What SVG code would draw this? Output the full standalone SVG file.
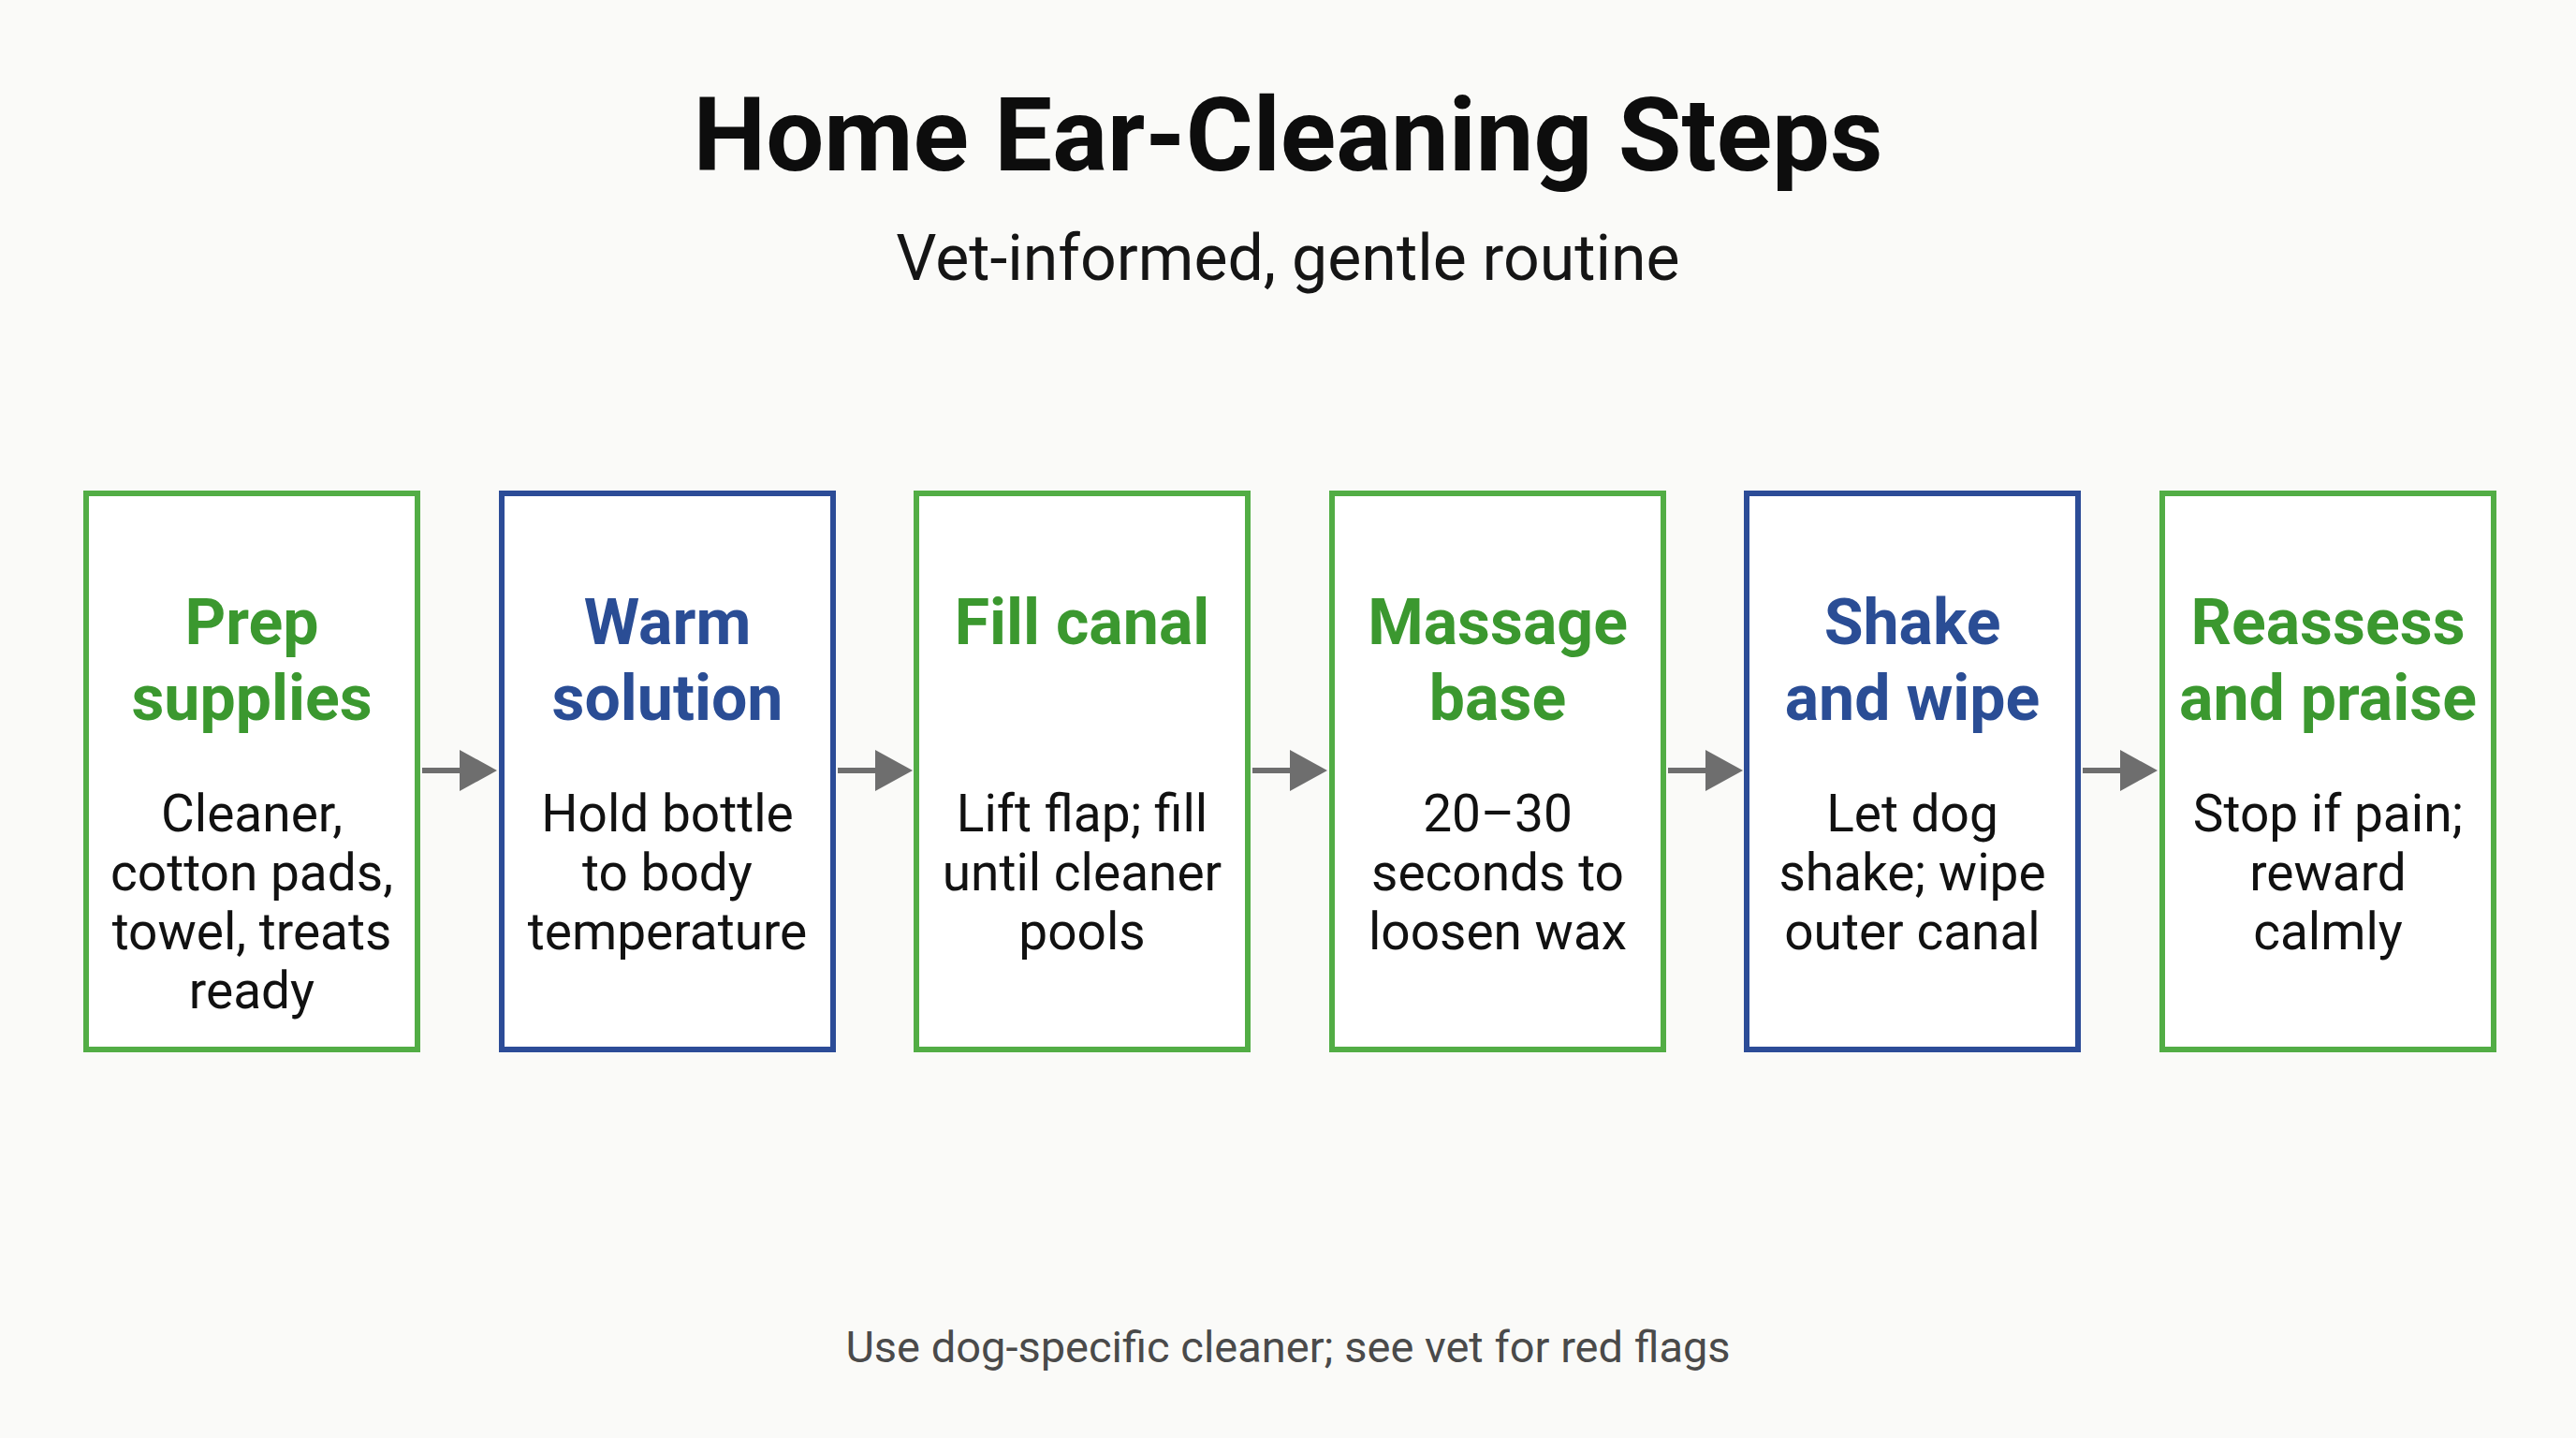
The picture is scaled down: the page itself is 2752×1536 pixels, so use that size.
<svg xmlns="http://www.w3.org/2000/svg" width="2752" height="1536" viewBox="0 0 2752 1536">
<defs>
<style>
.title{font-family:Roboto,"Liberation Sans",sans-serif;font-weight:700;font-size:110px;fill:#0d0d0d;text-anchor:middle}
.sub{font-family:Roboto,"Liberation Sans",sans-serif;font-size:68px;fill:#151515;text-anchor:middle}
.foot{font-family:Roboto,"Liberation Sans",sans-serif;font-size:47px;fill:#4a4a4a;text-anchor:middle}
.box{fill:#ffffff;stroke-width:6}
.g .box{stroke:#52ad45}
.b .box{stroke:#2c4c97}
.head{font-family:Roboto,"Liberation Sans",sans-serif;font-weight:700;font-size:68px;text-anchor:middle}
.g .head{fill:#3b982f}
.b .head{fill:#2a4d95}
.body{font-family:Roboto,"Liberation Sans",sans-serif;font-size:55px;fill:#111111;text-anchor:middle}
.conn line{stroke:#6e6e6e;stroke-width:6}
.conn polygon{fill:#6e6e6e}
</style>
</defs>
<rect width="2752" height="1536" fill="#fafaf8"/>
<text class="title" x="1376" y="182">Home Ear-Cleaning Steps</text>
<text class="sub" x="1376" y="299">Vet-informed, gentle routine</text>

<g id="connectors" class="conn">
<line x1="451" y1="823" x2="495" y2="823"/><polygon points="491,801 531,823 491,845"/>
<line x1="895" y1="823" x2="939" y2="823"/><polygon points="935,801 975,823 935,845"/>
<line x1="1338" y1="823" x2="1382" y2="823"/><polygon points="1378,801 1418,823 1378,845"/>
<line x1="1782" y1="823" x2="1826" y2="823"/><polygon points="1822,801 1862,823 1822,845"/>
<line x1="2225" y1="823" x2="2269" y2="823"/><polygon points="2265,801 2305,823 2265,845"/>
</g>

<g id="step1" class="g">
<rect class="box" x="92" y="527" width="354" height="594"/>
<text class="head"><tspan x="269" y="688">Prep</tspan><tspan x="269" y="769">supplies</tspan></text>
<text class="body"><tspan x="269" y="888">Cleaner,</tspan><tspan x="269" y="951">cotton pads,</tspan><tspan x="269" y="1014">towel, treats</tspan><tspan x="269" y="1077">ready</tspan></text>
</g>
<g id="step2" class="b">
<rect class="box" x="536" y="527" width="354" height="594"/>
<text class="head"><tspan x="713" y="688">Warm</tspan><tspan x="713" y="769">solution</tspan></text>
<text class="body"><tspan x="713" y="888">Hold bottle</tspan><tspan x="713" y="951">to body</tspan><tspan x="713" y="1014">temperature</tspan></text>
</g>
<g id="step3" class="g">
<rect class="box" x="979" y="527" width="354" height="594"/>
<text class="head"><tspan x="1156" y="688">Fill canal</tspan></text>
<text class="body"><tspan x="1156" y="888">Lift flap; fill</tspan><tspan x="1156" y="951">until cleaner</tspan><tspan x="1156" y="1014">pools</tspan></text>
</g>
<g id="step4" class="g">
<rect class="box" x="1423" y="527" width="354" height="594"/>
<text class="head"><tspan x="1600" y="688">Massage</tspan><tspan x="1600" y="769">base</tspan></text>
<text class="body"><tspan x="1600" y="888">20–30</tspan><tspan x="1600" y="951">seconds to</tspan><tspan x="1600" y="1014">loosen wax</tspan></text>
</g>
<g id="step5" class="b">
<rect class="box" x="1866" y="527" width="354" height="594"/>
<text class="head"><tspan x="2043" y="688">Shake</tspan><tspan x="2043" y="769">and wipe</tspan></text>
<text class="body"><tspan x="2043" y="888">Let dog</tspan><tspan x="2043" y="951">shake; wipe</tspan><tspan x="2043" y="1014">outer canal</tspan></text>
</g>
<g id="step6" class="g">
<rect class="box" x="2310" y="527" width="354" height="594"/>
<text class="head"><tspan x="2487" y="688">Reassess</tspan><tspan x="2487" y="769">and praise</tspan></text>
<text class="body"><tspan x="2487" y="888">Stop if pain;</tspan><tspan x="2487" y="951">reward</tspan><tspan x="2487" y="1014">calmly</tspan></text>
</g>

<text class="foot" x="1376" y="1455">Use dog-specific cleaner; see vet for red flags</text>
</svg>
